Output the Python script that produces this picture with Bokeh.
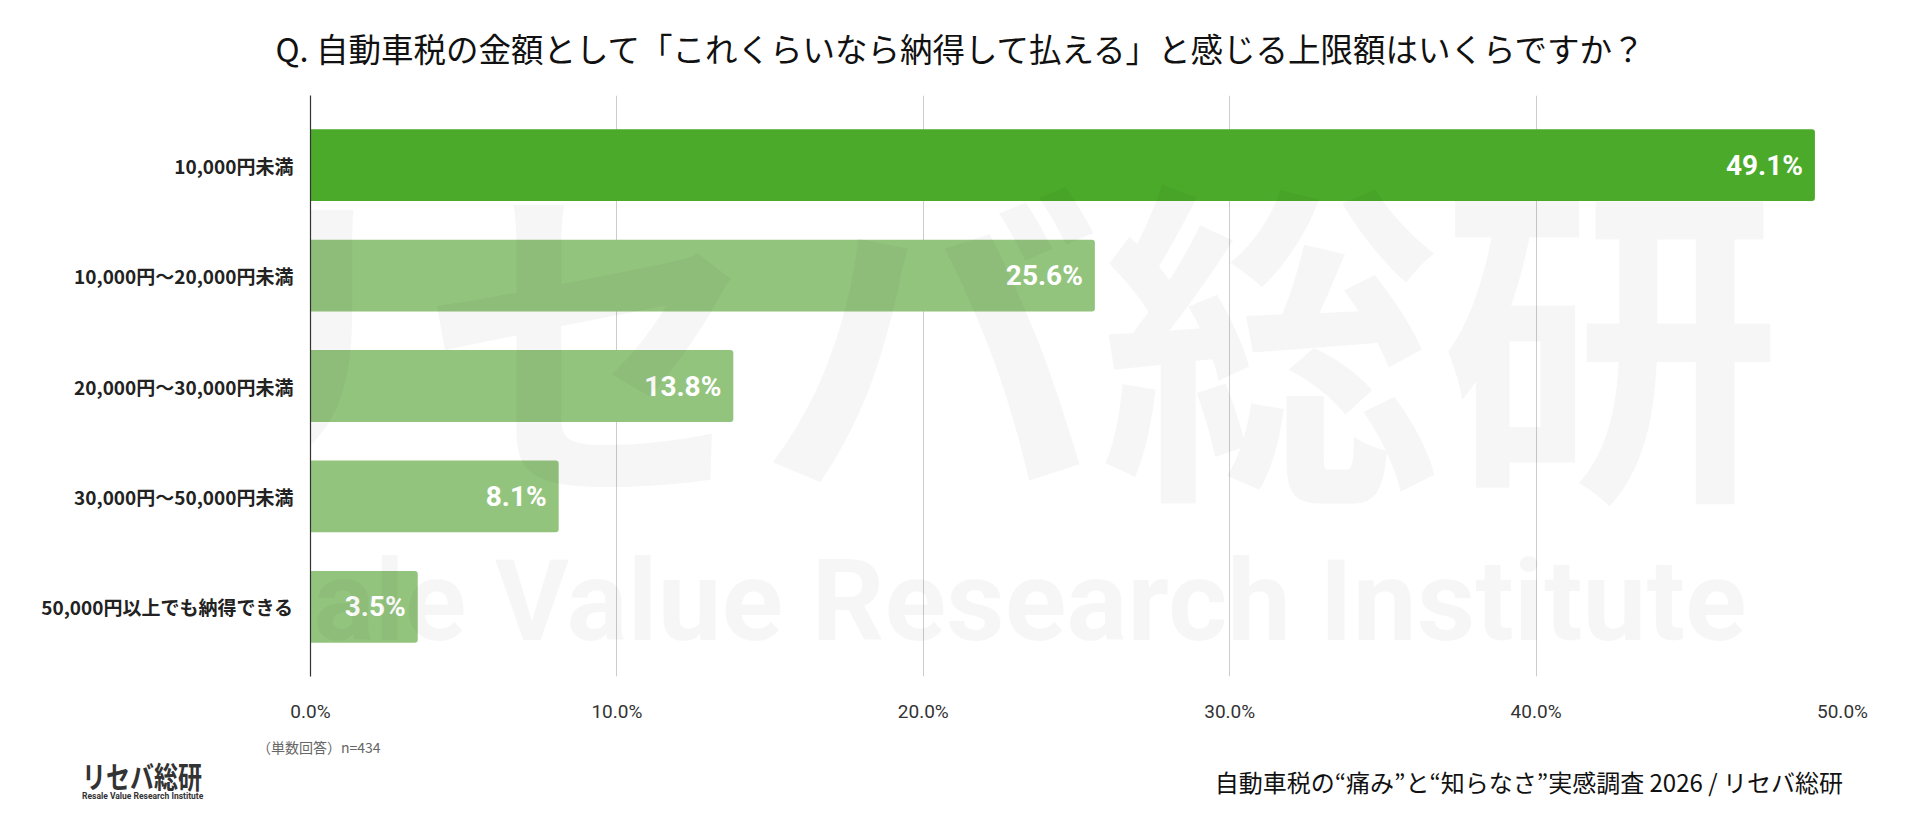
from bokeh.plotting import figure
from bokeh.layouts import column
from bokeh.models import Range1d, FixedTicker, PrintfTickFormatter, Label, ColumnDataSource, Div
from bokeh.core.properties import value
from bokeh.embed import file_html
from bokeh.resources import INLINE

# ---- data ----
categories = ["10,000円未満", "10,000円～20,000円未満", "20,000円～30,000円未満",
              "30,000円～50,000円未満", "50,000円以上でも納得できる"]
shares = [49.1, 25.6, 13.8, 8.1, 3.5]
x_ticks = [0, 10, 20, 30, 40, 50]
title_text = "Q. 自動車税の金額として「これくらいなら納得して払える」と感じる上限額はいくらですか？"
note_text = "（単数回答）n=434"
logo_text = "リセバ総研"
logo_sub = "Resale Value Research Institute"
source_text = "自動車税の“痛み”と“知らなさ”実感調査 2026 / リセバ総研"

JP = "Noto Sans CJK JP"
W = 1904
H_TOP, H_MAIN, H_FOOT = 95, 630, 76

positions = list(range(len(categories)))
colors = ["#4BAA2A"] + ["#93C47D"] * (len(categories) - 1)
src = ColumnDataSource(dict(
    y=positions, v=shares, c=colors,
    lab=[f"{s:.1f}%" for s in shares],
))


def span(text, left=None, right=None, top=0, lh=20, size="14px", color="#111",
         weight="normal", font=JP, width=None, align="left", extra=""):
    pos = f"left:{left}px;" if left is not None else f"right:{right}px;"
    w = f"width:{width}px;" if width is not None else ""
    return (f"<div style=\"position:absolute;{pos}top:{top}px;{w}line-height:{lh}px;"
            f"font-family:'{font}';font-size:{size};font-weight:{weight};color:{color};"
            f"white-space:nowrap;text-align:{align};{extra}\">{text}</div>")


# ---- header ----
header_html = (f"<div style='position:relative;width:{W}px;height:{H_TOP}px;'>"
               + span(title_text, left=0, top=0, lh=H_TOP, size="32.5px", color="#111111",
                      width=1920, align="center")
               + "</div>")
top = Div(text=header_html, width=W, height=H_TOP, margin=0)

# ---- main chart ----
p = figure(width=W, height=H_MAIN, output_backend="svg", toolbar_location=None,
           x_range=Range1d(0, 50), y_range=Range1d(4.63, -0.63),
           min_border_left=310, min_border_right=62, min_border_top=0, min_border_bottom=44)
p.outline_line_color = None
p.background_fill_color = "white"
p.border_fill_color = "white"

p.ygrid.grid_line_color = None
p.xgrid.ticker = FixedTicker(ticks=x_ticks)
p.xgrid.grid_line_color = "#cccccc"
p.xgrid.grid_line_width = 1

p.xaxis.ticker = FixedTicker(ticks=x_ticks)
p.xaxis.formatter = PrintfTickFormatter(format="%.1f%%")
p.xaxis.axis_line_color = None
p.xaxis.major_tick_line_color = None
p.xaxis.minor_tick_line_color = None
p.xaxis.major_label_standoff = 17
p.xaxis.major_label_text_font = "Roboto"
p.xaxis.major_label_text_font_size = "19px"
p.xaxis.major_label_text_color = "#333333"

p.yaxis.ticker = FixedTicker(ticks=positions)
p.yaxis.major_label_overrides = {i: c for i, c in zip(positions, categories)}
p.yaxis.axis_line_color = "#333333"
p.yaxis.axis_line_width = 1.2
p.yaxis.major_tick_line_color = None
p.yaxis.minor_tick_line_color = None
p.yaxis.major_label_standoff = 11
p.yaxis.major_label_text_font = JP
p.yaxis.major_label_text_font_style = "bold"
p.yaxis.major_label_text_font_size = "19px"
p.yaxis.major_label_text_color = "#222222"

p.hbar(y="y", right="v", left=0, height=0.65, fill_color="c", line_color=None,
       border_radius=(0, 3, 3, 0), source=src)

p.text(x="v", y="y", text="lab", source=src, x_offset=-12,
       text_align="right", text_baseline="middle",
       text_font=value("Roboto"), text_font_style="bold",
       text_font_size="28px", text_color="white")

# faint watermark
p.add_layout(Label(x=930, y=325 - H_TOP, x_units="canvas", y_units="canvas", text=logo_text,
                   text_font=JP, text_font_style="bold", text_font_size="340px",
                   text_color="black", text_alpha=0.035,
                   text_align="center", text_baseline="middle"))
p.add_layout(Label(x=933, y=600 - H_TOP, x_units="canvas", y_units="canvas", text=logo_sub,
                   text_font="Roboto", text_font_style="bold", text_font_size="114px",
                   text_color="black", text_alpha=0.035,
                   text_align="center", text_baseline="middle"))

# ---- footer (starts at page y = 725) ----
footer_html = (f"<div style='position:relative;width:{W}px;height:{H_FOOT}px;'>"
               + span(note_text, left=257, top=12, lh=20, size="14px", color="#666666")
               + span(logo_text, left=82, top=35, lh=30, size="30px", color="#333333",
                      weight="bold", extra="transform:scaleX(0.8);transform-origin:left center;")
               + span(logo_sub, left=82, top=67, lh=9, size="8.5px", color="#333333",
                      weight="bold", font="Roboto")
               + span(source_text, right=61, top=43, lh=28, size="24px", color="#111111")
               + "</div>")
foot = Div(text=footer_html, width=W, height=H_FOOT, margin=0)

layout = column(top, p, foot, spacing=0)
open("out.html", "w").write(file_html(layout, INLINE))
